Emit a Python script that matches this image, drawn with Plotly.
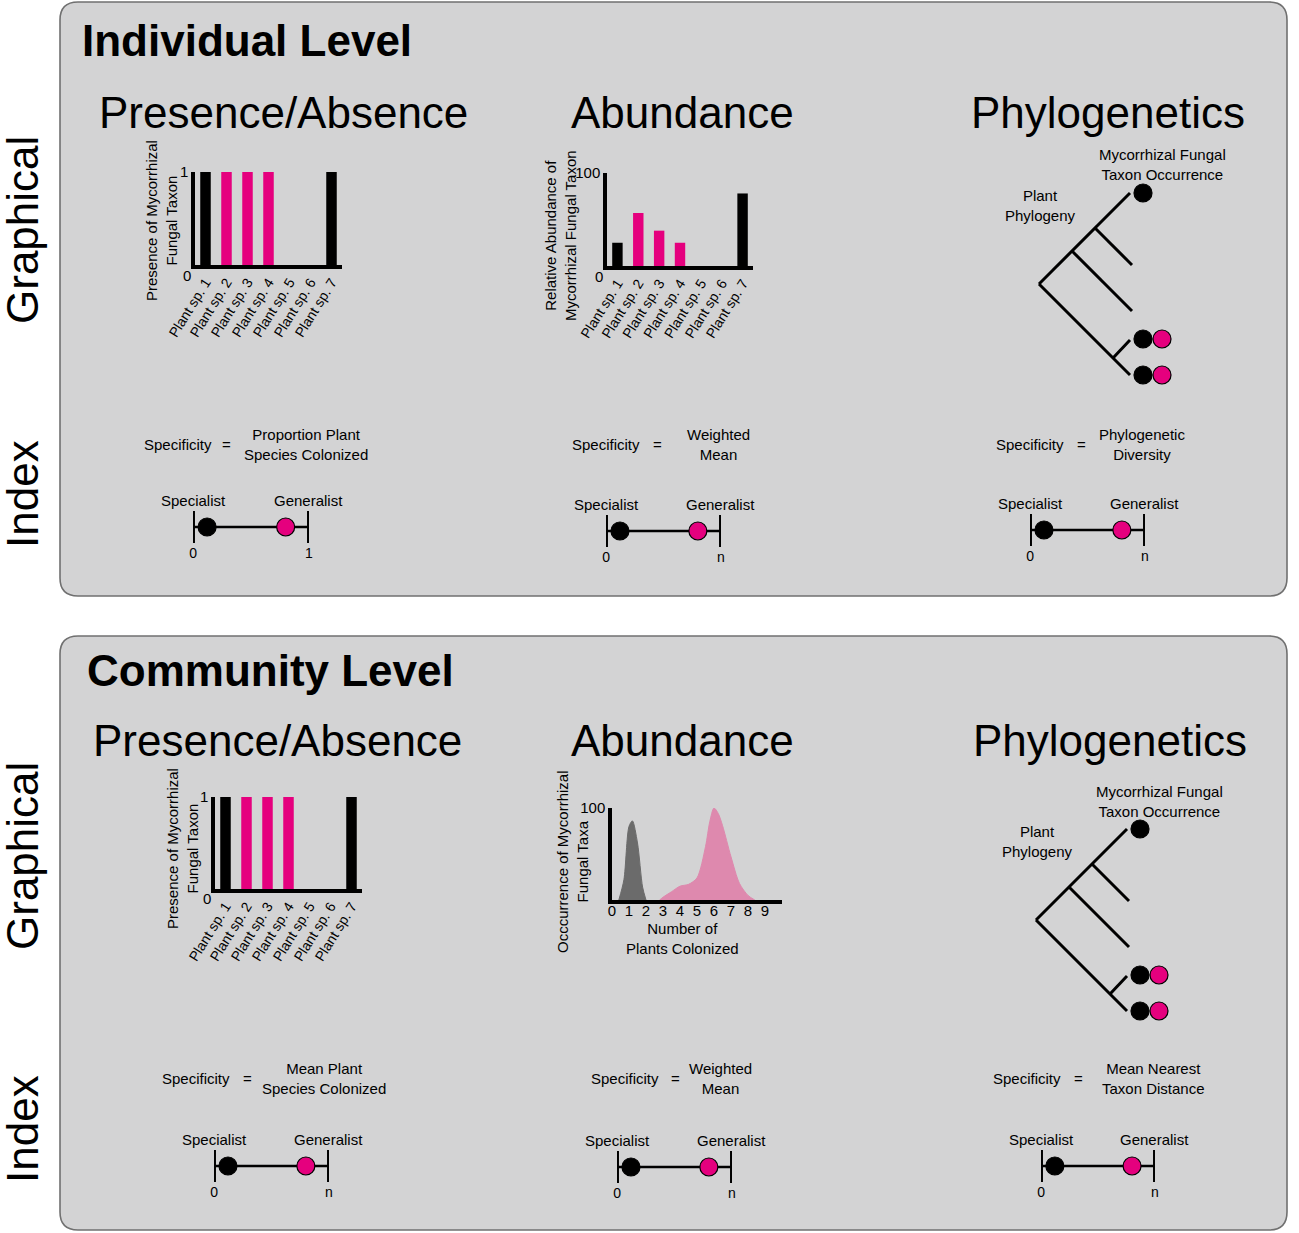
import plotly.graph_objects as go

W, H = 1299, 1233

# Cores
PRETO = '#000000'
ROSA = '#e5007e'
ROSA_CLARO = '#de89ae'
CINZA_PICO = '#6b6b6b'
FUNDO = '#d3d3d4'
BORDA = '#707070'
FONTE = 'Liberation Sans, Arial, sans-serif'

# Dados dos gráficos de barras
plantas = ['Plant sp. 1', 'Plant sp. 2', 'Plant sp. 3', 'Plant sp. 4',
           'Plant sp. 5', 'Plant sp. 6', 'Plant sp. 7']
presenca_individuo = [1, 1, 1, 1, 0, 0, 1]
abundancia_individuo = [25, 57, 38, 25, 0, 0, 78]
presenca_comunidade = [1, 1, 1, 1, 0, 0, 1]
cores_barras = [PRETO, ROSA, ROSA, ROSA, PRETO, PRETO, PRETO]

# Curvas de ocorrência (comunidade / abundância)
num_plantas = [0, 1, 2, 3, 4, 5, 6, 7, 8, 9]
cinza_x = [0.4, 0.7, 1.0, 1.2, 1.5, 1.8, 2.0]
cinza_y = [0, 22, 80, 86, 62, 14, 0]
rosa_x = [2.8, 3.0, 3.5, 4.0, 4.5, 5.0, 5.5, 5.75, 6.0, 6.25, 6.5, 7.0, 7.5, 8.0, 8.4]
rosa_y = [0, 3, 9, 15, 17, 24, 58, 85, 100, 94, 81, 47, 18, 5, 0]

# Filogenia (ramos separados por None)
arvore_x = [0, 91, None, 56, 93, None, 33, 93, None, 0, 91, None, 74, 91]
arvore_y = [0, 91, None, 56, 19, None, 33, -27, None, 0, -91, None, -74, -56]
ocorrencia_x = [104, 104, 123, 104, 123]
ocorrencia_y = [91, -55, -55, -91, -91]
ocorrencia_cor = [PRETO, PRETO, ROSA, PRETO, ROSA]

# Escalas especialista/generalista
pos_especialista = 0.12
pos_generalista = 0.80
rotulo_max = ['1', 'n', 'n', 'n', 'n', 'n']
indices = ['Proportion Plant<br>Species Colonized', 'Weighted<br>Mean',
           'Phylogenetic<br>Diversity', 'Mean Plant<br>Species Colonized',
           'Weighted<br>Mean', 'Mean Nearest<br>Taxon Distance']


def px_x(x):
    return x / W


def px_y(y):
    return 1 - y / H


fig = go.Figure()
layout = {}
anotacoes = []
formas = []


def texto(x, y, t, size=15, bold=False, angle=0, xanchor='center', **kw):
    if bold:
        t = '<b>' + t + '</b>'
    d = dict(x=px_x(x), y=px_y(y), xref='paper', yref='paper', text=t,
             showarrow=False, textangle=angle, xanchor=xanchor, yanchor='middle',
             font=dict(size=size, color='black', family=FONTE))
    d.update(kw)
    anotacoes.append(d)


def eixos(n, x0, x1, ytop, ybot, xr, yr, xextra=None, yextra=None):
    sx = '' if n == 1 else str(n)
    base = dict(showgrid=False, zeroline=False, showline=False, showticklabels=False,
                ticks='', fixedrange=True, automargin=False)
    xa = dict(base, domain=[px_x(x0), px_x(x1)], range=xr, anchor='y' + sx)
    ya = dict(base, domain=[px_y(ybot), px_y(ytop)], range=yr, anchor='x' + sx)
    if xextra:
        xa.update(xextra)
    if yextra:
        ya.update(yextra)
    layout['xaxis' + sx] = xa
    layout['yaxis' + sx] = ya
    return 'x' + sx, 'y' + sx


def caixa(x0, y0, x1, y1, r):
    rx, ry = r, r
    p = (f"M {px_x(x0+rx)},{px_y(y0)} L {px_x(x1-rx)},{px_y(y0)} "
         f"Q {px_x(x1)},{px_y(y0)} {px_x(x1)},{px_y(y0+ry)} "
         f"L {px_x(x1)},{px_y(y1-ry)} Q {px_x(x1)},{px_y(y1)} {px_x(x1-rx)},{px_y(y1)} "
         f"L {px_x(x0+rx)},{px_y(y1)} Q {px_x(x0)},{px_y(y1)} {px_x(x0)},{px_y(y1-ry)} "
         f"L {px_x(x0)},{px_y(y0+ry)} Q {px_x(x0)},{px_y(y0)} {px_x(x0+rx)},{px_y(y0)} Z")
    formas.append(dict(type='path', path=p, xref='paper', yref='paper', layer='below',
                       fillcolor=FUNDO, line=dict(color=BORDA, width=1.6)))


caixa(60, 2, 1287, 596, 18)
caixa(60, 636, 1287, 1230, 18)

# Títulos
texto(80, 40, 'Individual Level', size=44, bold=True, xanchor='left')
texto(85, 670, 'Community Level', size=44, bold=True, xanchor='left')
for (cx, cy, t) in [(283, 113, 'Presence/Absence'), (682, 113, 'Abundance'),
                    (1108, 113, 'Phylogenetics'), (277, 740, 'Presence/Absence'),
                    (682, 740, 'Abundance'), (1110, 740, 'Phylogenetics')]:
    texto(cx, cy, t, size=44)
for (cy, t) in [(230, 'Graphical'), (494, 'Index'), (856, 'Graphical'), (1129, 'Index')]:
    texto(22, cy, t, size=44, angle=-90)


# Gráficos de barras
def barras(n, x0, x1, ytop, ybot, valores, ymax, titulo, tx, ty):
    xa, ya = eixos(
        n, x0, x1, ytop, ybot, [-0.5, 6.5], [0, ymax],
        xextra=dict(showline=True, linecolor='black', linewidth=3.5, showticklabels=True,
                    tickangle=-58, tickfont=dict(size=14, color='black', family=FONTE),
                    type='category'),
        yextra=dict(showline=True, linecolor='black', linewidth=3.5, showticklabels=True,
                    tickvals=[ymax], ticktext=[str(ymax)],
                    tickfont=dict(size=15, color='black', family=FONTE)))
    fig.add_trace(go.Bar(x=plantas, y=valores, marker=dict(color=cores_barras, line_width=0),
                         width=0.5, xaxis=xa, yaxis=ya, showlegend=False))
    anotacoes.append(dict(x=-0.5, y=0, xref=xa, yref=ya, text='0', showarrow=False,
                          xshift=-8, yshift=-10,
                          font=dict(size=15, color='black', family=FONTE)))
    texto(tx, ty, titulo, size=15, angle=-90)


barras(1, 195, 342, 172, 265, presenca_individuo, 1,
       'Presence of Mycorrhizal<br>Fungal Taxon', 162, 221)
barras(2, 607, 753, 173, 266, abundancia_individuo, 100,
       'Relative Abundance of<br>Mycorrhizal Fungal Taxon', 560, 236)
barras(3, 215, 362, 797, 889, presenca_comunidade, 1,
       'Presence of Mycorrhizal<br>Fungal Taxon', 182, 849)

# Curvas de ocorrência
xa, ya = eixos(
    4, 612, 782, 808, 900, [0, 10], [0, 100],
    xextra=dict(showline=True, linecolor='black', linewidth=3.5, showticklabels=True,
                tickvals=num_plantas, ticktext=[str(v) for v in num_plantas],
                ticklabelstandoff=-6,
                tickfont=dict(size=15, color='black', family=FONTE)),
    yextra=dict(showline=True, linecolor='black', linewidth=3.5, showticklabels=True,
                tickvals=[100], ticktext=['100'],
                tickfont=dict(size=15, color='black', family=FONTE)))
fig.add_trace(go.Scatter(x=rosa_x, y=rosa_y, mode='lines', fill='tozeroy',
                         line=dict(color=ROSA_CLARO, width=1, shape='spline', smoothing=0.8),
                         fillcolor=ROSA_CLARO, xaxis=xa, yaxis=ya, showlegend=False))
fig.add_trace(go.Scatter(x=cinza_x, y=cinza_y, mode='lines', fill='tozeroy',
                         line=dict(color=CINZA_PICO, width=1, shape='spline', smoothing=0.8),
                         fillcolor=CINZA_PICO, xaxis=xa, yaxis=ya, showlegend=False))
texto(683, 938, 'Number of<br>Plants Colonized', size=15)
texto(572, 862, 'Occcurrence of Mycorrhizal<br>Fungal Taxa', size=15, angle=-90)

# Filogenias
for n, dx, dy in [(5, 0, 0), (6, -3, 636)]:
    xa, ya = eixos(n, 1025 + dx, 1180 + dx, 170 + dy, 395 + dy, [-14, 141], [-111, 114])
    fig.add_trace(go.Scatter(x=arvore_x, y=arvore_y, mode='lines',
                             line=dict(color='black', width=3), cliponaxis=False,
                             xaxis=xa, yaxis=ya, showlegend=False))
    fig.add_trace(go.Scatter(x=ocorrencia_x, y=ocorrencia_y, mode='markers', cliponaxis=False,
                             marker=dict(size=18, color=ocorrencia_cor,
                                         line=dict(color='black', width=1.2)),
                             xaxis=xa, yaxis=ya, showlegend=False))
    texto(1162 + dx, 165 + dy, 'Mycorrhizal Fungal<br>Taxon Occurrence', size=15)
    texto(1040 + dx, 205 + dy, 'Plant<br>Phylogeny', size=15)

# Índices e escalas
escalas = [(193, 309, 527), (606, 721, 531), (1030, 1145, 530),
           (214, 329, 1166), (617, 732, 1167), (1041, 1155, 1166)]
equacoes = [(178, 227, 306, 444), (606, 657, 718, 444), (1030, 1081, 1142, 444),
            (196, 247, 324, 1078), (625, 675, 720, 1078), (1027, 1078, 1153, 1078)]
for i, ((x0, x1, ly), (cs, ce, ci, ey)) in enumerate(zip(escalas, equacoes)):
    n = 7 + i
    xa, ya = eixos(
        n, x0, x1, ly - 16, ly + 16, [-0.002, 1.002], [-1, 1],
        xextra=dict(showticklabels=True, tickvals=[0, 1], ticktext=['0', rotulo_max[i]],
                    tickfont=dict(size=14, color='black', family=FONTE)))
    fig.add_trace(go.Scatter(x=[0, 0, None, 1, 1], y=[-1, 1, None, -1, 1], mode='lines',
                             line=dict(color='black', width=3.5), cliponaxis=False,
                             xaxis=xa, yaxis=ya, showlegend=False))
    fig.add_trace(go.Scatter(x=[0, 1], y=[0, 0], mode='lines',
                             line=dict(color='black', width=2.5), cliponaxis=False,
                             xaxis=xa, yaxis=ya, showlegend=False))
    fig.add_trace(go.Scatter(x=[pos_especialista, pos_generalista], y=[0, 0], mode='markers',
                             marker=dict(size=18, color=[PRETO, ROSA],
                                         line=dict(color='black', width=1.2)),
                             cliponaxis=False, xaxis=xa, yaxis=ya, showlegend=False))
    for xv, t in [(0, 'Specialist'), (1, 'Generalist')]:
        anotacoes.append(dict(x=xv, y=1, xref=xa, yref=ya, text=t, showarrow=False,
                              yanchor='bottom', yshift=0,
                              font=dict(size=15, color='black', family=FONTE)))
    texto(cs, ey, 'Specificity', size=15)
    texto(ce, ey, '=', size=15)
    texto(ci, ey, indices[i], size=15)

fig.update_layout(
    width=W, height=H,
    margin=dict(l=0, r=0, t=0, b=0, autoexpand=False),
    paper_bgcolor='white',
    plot_bgcolor='rgba(0,0,0,0)',
    font=dict(family=FONTE, color='black'),
    showlegend=False,
    annotations=anotacoes,
    shapes=formas,
    **layout,
)

# sem margem da página para o gráfico começar no canto
fig.write_html('out.html', config={'displayModeBar': False},
               post_script="document.body.style.margin='0';")
